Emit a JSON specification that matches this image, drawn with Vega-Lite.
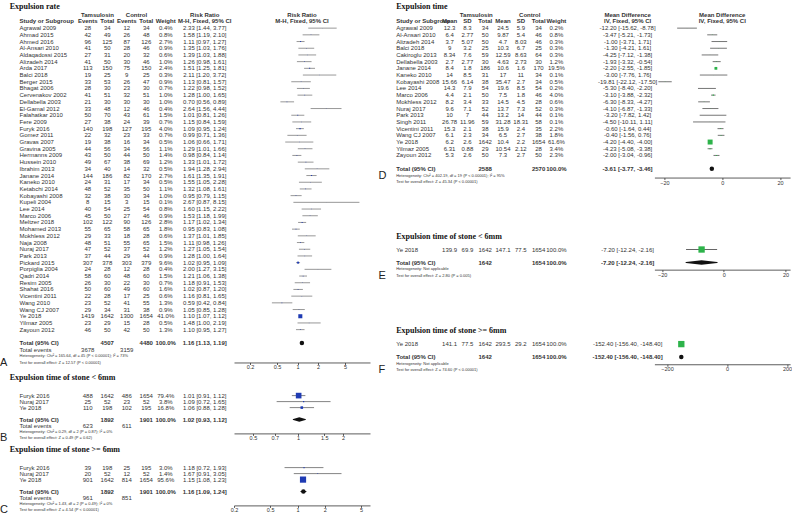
{
"$schema": "https://vega.github.io/schema/vega-lite/v6.json",
"padding": 0,
"background": "white",
"config": {
 "view": {"stroke": null},
 "text": {"font": "Liberation Sans", "fontSize": 6, "color": "#333", "baseline": "middle"},
 "axis": {"labelFont": "Liberation Sans", "labelFontSize": 5.5, "labelColor": "#333", "tickSize": 2, "labelPadding": 0.5, "domainColor": "#333", "tickColor": "#333", "domainWidth": 0.8, "tickWidth": 0.8, "grid": false, "labelFlush": false, "labelOverlap": false}
},
"datasets": {
 "A": [
  {"kind": "title", "r": -3, "title": "Expulsion rate"},
  {"kind": "head1", "r": -2, "tam": "Tamsulosin", "ctl": "Control", "ci": "Risk Ratio", "plot": "Risk Ratio"},
  {"kind": "head2", "r": -1, "study": "Study or Subgroup", "e1": "Events", "n1": "Total", "e2": "Events", "n2": "Total", "w": "Weight", "ci": "M-H, Fixed, 95% CI", "plot": "M-H, Fixed, 95% CI"},
  {"kind": "study", "r": 0, "study": "Agrawal 2009", "e1": "28", "n1": "34", "e2": "12", "n2": "34", "w": "0.4%", "ci": "2.33 [1.44, 3.77]", "weight": 0.4, "est": 2.33, "lo": 1.44, "hi": 3.77},
  {"kind": "study", "r": 1, "study": "Ahmad 2015", "e1": "42", "n1": "49", "e2": "26", "n2": "48", "w": "0.8%", "ci": "1.58 [1.19, 2.10]", "weight": 0.8, "est": 1.58, "lo": 1.19, "hi": 2.10},
  {"kind": "study", "r": 2, "study": "Ahmed 2016", "e1": "96", "n1": "125", "e2": "87", "n2": "126", "w": "2.7%", "ci": "1.11 [0.97, 1.27]", "weight": 2.7, "est": 1.11, "lo": 0.97, "hi": 1.27},
  {"kind": "study", "r": 3, "study": "Al-Ansari 2010", "e1": "41", "n1": "50", "e2": "28", "n2": "46", "w": "0.9%", "ci": "1.35 [1.03, 1.76]", "weight": 0.9, "est": 1.35, "lo": 1.03, "hi": 1.76},
  {"kind": "study", "r": 4, "study": "Aldaqadossi 2015", "e1": "27", "n1": "31", "e2": "20", "n2": "32", "w": "0.6%", "ci": "1.39 [1.03, 1.88]", "weight": 0.6, "est": 1.39, "lo": 1.03, "hi": 1.88},
  {"kind": "study", "r": 5, "study": "Alizadeh 2014", "e1": "41", "n1": "50", "e2": "30", "n2": "46", "w": "1.0%", "ci": "1.26 [0.98, 1.61]", "weight": 1.0, "est": 1.26, "lo": 0.98, "hi": 1.61},
  {"kind": "study", "r": 6, "study": "Arda 2017", "e1": "113", "n1": "150", "e2": "75", "n2": "150", "w": "2.4%", "ci": "1.51 [1.25, 1.81]", "weight": 2.4, "est": 1.51, "lo": 1.25, "hi": 1.81},
  {"kind": "study", "r": 7, "study": "Balci 2018", "e1": "19", "n1": "25", "e2": "9", "n2": "25", "w": "0.3%", "ci": "2.11 [1.20, 3.72]", "weight": 0.3, "est": 2.11, "lo": 1.20, "hi": 3.72},
  {"kind": "study", "r": 8, "study": "Berger 2015", "e1": "33", "n1": "53", "e2": "26", "n2": "47", "w": "0.9%", "ci": "1.13 [0.81, 1.57]", "weight": 0.9, "est": 1.13, "lo": 0.81, "hi": 1.57},
  {"kind": "study", "r": 9, "study": "Bhagat 2006", "e1": "28", "n1": "30", "e2": "23", "n2": "30", "w": "0.7%", "ci": "1.22 [0.98, 1.52]", "weight": 0.7, "est": 1.22, "lo": 0.98, "hi": 1.52},
  {"kind": "study", "r": 10, "study": "Cervenakov 2002", "e1": "41", "n1": "51", "e2": "32", "n2": "51", "w": "1.0%", "ci": "1.28 [1.00, 1.65]", "weight": 1.0, "est": 1.28, "lo": 1.00, "hi": 1.65},
  {"kind": "study", "r": 11, "study": "Dellabella 2003", "e1": "21", "n1": "30", "e2": "30", "n2": "30", "w": "1.0%", "ci": "0.70 [0.56, 0.89]", "weight": 1.0, "est": 0.70, "lo": 0.56, "hi": 0.89},
  {"kind": "study", "r": 12, "study": "El-Gamal 2012", "e1": "33", "n1": "48", "e2": "12", "n2": "46", "w": "0.4%", "ci": "2.64 [1.56, 4.44]", "weight": 0.4, "est": 2.64, "lo": 1.56, "hi": 4.44},
  {"kind": "study", "r": 13, "study": "Falahatkar 2010", "e1": "50", "n1": "70", "e2": "43", "n2": "61", "w": "1.5%", "ci": "1.01 [0.81, 1.26]", "weight": 1.5, "est": 1.01, "lo": 0.81, "hi": 1.26},
  {"kind": "study", "r": 14, "study": "Fere 2009", "e1": "27", "n1": "38", "e2": "24", "n2": "39", "w": "0.7%", "ci": "1.15 [0.84, 1.59]", "weight": 0.7, "est": 1.15, "lo": 0.84, "hi": 1.59},
  {"kind": "study", "r": 15, "study": "Furyk 2016", "e1": "140", "n1": "198", "e2": "127", "n2": "195", "w": "4.0%", "ci": "1.09 [0.95, 1.24]", "weight": 4.0, "est": 1.09, "lo": 0.95, "hi": 1.24},
  {"kind": "study", "r": 16, "study": "Gomez 2011", "e1": "22", "n1": "32", "e2": "23", "n2": "33", "w": "0.7%", "ci": "0.99 [0.71, 1.36]", "weight": 0.7, "est": 0.99, "lo": 0.71, "hi": 1.36},
  {"kind": "study", "r": 17, "study": "Gravas 2007", "e1": "19", "n1": "38", "e2": "16", "n2": "34", "w": "0.5%", "ci": "1.06 [0.66, 1.71]", "weight": 0.5, "est": 1.06, "lo": 0.66, "hi": 1.71},
  {"kind": "study", "r": 18, "study": "Gravina 2005", "e1": "44", "n1": "56", "e2": "34", "n2": "56", "w": "1.1%", "ci": "1.29 [1.01, 1.66]", "weight": 1.1, "est": 1.29, "lo": 1.01, "hi": 1.66},
  {"kind": "study", "r": 19, "study": "Hermanns 2009", "e1": "43", "n1": "50", "e2": "44", "n2": "50", "w": "1.4%", "ci": "0.98 [0.84, 1.14]", "weight": 1.4, "est": 0.98, "lo": 0.84, "hi": 1.14},
  {"kind": "study", "r": 20, "study": "Hussein 2010", "e1": "49", "n1": "67", "e2": "38", "n2": "69", "w": "1.2%", "ci": "1.33 [1.01, 1.72]", "weight": 1.2, "est": 1.33, "lo": 1.01, "hi": 1.72},
  {"kind": "study", "r": 21, "study": "Ibrahim 2013", "e1": "34", "n1": "40", "e2": "14", "n2": "32", "w": "0.5%", "ci": "1.94 [1.28, 2.94]", "weight": 0.5, "est": 1.94, "lo": 1.28, "hi": 2.94},
  {"kind": "study", "r": 22, "study": "Janane 2014", "e1": "144", "n1": "186", "e2": "82", "n2": "170", "w": "2.7%", "ci": "1.61 [1.35, 1.91]", "weight": 2.7, "est": 1.61, "lo": 1.35, "hi": 1.91},
  {"kind": "study", "r": 23, "study": "Kaneko 2010", "e1": "24", "n1": "31", "e2": "17", "n2": "34", "w": "0.5%", "ci": "1.55 [1.05, 2.28]", "weight": 0.5, "est": 1.55, "lo": 1.05, "hi": 2.28},
  {"kind": "study", "r": 24, "study": "Ketabchi 2014", "e1": "48", "n1": "52", "e2": "35", "n2": "50", "w": "1.1%", "ci": "1.32 [1.08, 1.61]", "weight": 1.1, "est": 1.32, "lo": 1.08, "hi": 1.61},
  {"kind": "study", "r": 25, "study": "Kobayashi 2008", "e1": "32", "n1": "38", "e2": "30", "n2": "34", "w": "1.0%", "ci": "0.95 [0.79, 1.15]", "weight": 1.0, "est": 0.95, "lo": 0.79, "hi": 1.15},
  {"kind": "study", "r": 26, "study": "Kupeli 2004", "e1": "8", "n1": "15", "e2": "3", "n2": "15", "w": "0.1%", "ci": "2.67 [0.87, 8.15]", "weight": 0.1, "est": 2.67, "lo": 0.87, "hi": 8.15},
  {"kind": "study", "r": 27, "study": "Lee 2014", "e1": "40", "n1": "54", "e2": "25", "n2": "54", "w": "0.8%", "ci": "1.60 [1.15, 2.22]", "weight": 0.8, "est": 1.60, "lo": 1.15, "hi": 2.22},
  {"kind": "study", "r": 28, "study": "Marco 2006", "e1": "45", "n1": "50", "e2": "27", "n2": "46", "w": "0.9%", "ci": "1.53 [1.18, 1.99]", "weight": 0.9, "est": 1.53, "lo": 1.18, "hi": 1.99},
  {"kind": "study", "r": 29, "study": "Meltzer 2018", "e1": "102", "n1": "122", "e2": "90", "n2": "126", "w": "2.8%", "ci": "1.17 [1.02, 1.34]", "weight": 2.8, "est": 1.17, "lo": 1.02, "hi": 1.34},
  {"kind": "study", "r": 30, "study": "Mohamed 2013", "e1": "55", "n1": "65", "e2": "58", "n2": "65", "w": "1.8%", "ci": "0.95 [0.83, 1.08]", "weight": 1.8, "est": 0.95, "lo": 0.83, "hi": 1.08},
  {"kind": "study", "r": 31, "study": "Mokhless 2012", "e1": "29", "n1": "33", "e2": "18", "n2": "28", "w": "0.6%", "ci": "1.37 [1.01, 1.85]", "weight": 0.6, "est": 1.37, "lo": 1.01, "hi": 1.85},
  {"kind": "study", "r": 32, "study": "Naja 2008", "e1": "48", "n1": "51", "e2": "55", "n2": "65", "w": "1.5%", "ci": "1.11 [0.98, 1.26]", "weight": 1.5, "est": 1.11, "lo": 0.98, "hi": 1.26},
  {"kind": "study", "r": 33, "study": "Nuraj 2017", "e1": "47", "n1": "52", "e2": "37", "n2": "52", "w": "1.2%", "ci": "1.27 [1.05, 1.54]", "weight": 1.2, "est": 1.27, "lo": 1.05, "hi": 1.54},
  {"kind": "study", "r": 34, "study": "Park 2013", "e1": "37", "n1": "44", "e2": "29", "n2": "44", "w": "0.9%", "ci": "1.28 [1.00, 1.64]", "weight": 0.9, "est": 1.28, "lo": 1.00, "hi": 1.64},
  {"kind": "study", "r": 35, "study": "Pickard 2015", "e1": "307", "n1": "378", "e2": "303", "n2": "379", "w": "9.6%", "ci": "1.02 [0.95, 1.09]", "weight": 9.6, "est": 1.02, "lo": 0.95, "hi": 1.09},
  {"kind": "study", "r": 36, "study": "Porpiglia 2004", "e1": "24", "n1": "28", "e2": "12", "n2": "28", "w": "0.4%", "ci": "2.00 [1.27, 3.15]", "weight": 0.4, "est": 2.00, "lo": 1.27, "hi": 3.15},
  {"kind": "study", "r": 37, "study": "Qadri 2014", "e1": "58", "n1": "60", "e2": "48", "n2": "60", "w": "1.5%", "ci": "1.21 [1.06, 1.38]", "weight": 1.5, "est": 1.21, "lo": 1.06, "hi": 1.38},
  {"kind": "study", "r": 38, "study": "Resim 2005", "e1": "26", "n1": "30", "e2": "22", "n2": "30", "w": "0.7%", "ci": "1.18 [0.91, 1.53]", "weight": 0.7, "est": 1.18, "lo": 0.91, "hi": 1.53},
  {"kind": "study", "r": 39, "study": "Shahat 2016", "e1": "50", "n1": "60", "e2": "49", "n2": "60", "w": "1.6%", "ci": "1.02 [0.87, 1.20]", "weight": 1.6, "est": 1.02, "lo": 0.87, "hi": 1.20},
  {"kind": "study", "r": 40, "study": "Vicentini 2011", "e1": "22", "n1": "28", "e2": "17", "n2": "25", "w": "0.6%", "ci": "1.16 [0.81, 1.65]", "weight": 0.6, "est": 1.16, "lo": 0.81, "hi": 1.65},
  {"kind": "study", "r": 41, "study": "Wang 2010", "e1": "23", "n1": "52", "e2": "41", "n2": "55", "w": "1.3%", "ci": "0.59 [0.42, 0.84]", "weight": 1.3, "est": 0.59, "lo": 0.42, "hi": 0.84},
  {"kind": "study", "r": 42, "study": "Wang CJ 2007", "e1": "29", "n1": "34", "e2": "31", "n2": "38", "w": "0.9%", "ci": "1.05 [0.85, 1.28]", "weight": 0.9, "est": 1.05, "lo": 0.85, "hi": 1.28},
  {"kind": "study", "r": 43, "study": "Ye 2018", "e1": "1419", "n1": "1642", "e2": "1300", "n2": "1654", "w": "41.0%", "ci": "1.10 [1.07, 1.12]", "weight": 41.0, "est": 1.10, "lo": 1.07, "hi": 1.12},
  {"kind": "study", "r": 44, "study": "Yilmaz 2005", "e1": "23", "n1": "29", "e2": "15", "n2": "28", "w": "0.5%", "ci": "1.48 [1.00, 2.19]", "weight": 0.5, "est": 1.48, "lo": 1.00, "hi": 2.19},
  {"kind": "study", "r": 45, "study": "Zayoun 2012", "e1": "46", "n1": "50", "e2": "42", "n2": "50", "w": "1.3%", "ci": "1.10 [0.95, 1.27]", "weight": 1.3, "est": 1.10, "lo": 0.95, "hi": 1.27},
  {"kind": "total", "r": 47, "study": "Total (95% CI)", "n1": "4507", "n2": "4480", "w": "100.0%", "ci": "1.16 [1.13, 1.19]", "est": 1.16, "lo": 1.13, "hi": 1.19},
  {"kind": "events", "r": 48, "study": "Total events", "e1": "3678", "e2": "3159"},
  {"kind": "note", "r": 49, "study": "Heterogeneity: Chi² = 165.64, df = 45 (P < 0.00001); I² = 73%"},
  {"kind": "note", "r": 50, "study": "Test for overall effect: Z = 12.57 (P < 0.00001)", "letter": "A"},
  {"kind": "favours", "left": "Favours [Tamsulosin]", "right": "Favours [Control]"}
 ],
 "B": [
  {"kind": "title", "r": -3, "title": "Expulsion time of stone < 6mm"},
  {"kind": "study", "r": 0, "study": "Furyk 2016", "e1": "488", "n1": "1642", "e2": "486", "n2": "1654", "w": "79.4%", "ci": "1.01 [0.91, 1.12]", "weight": 79.4, "est": 1.01, "lo": 0.91, "hi": 1.12},
  {"kind": "study", "r": 1, "study": "Nuraj 2017", "e1": "25", "n1": "52", "e2": "23", "n2": "52", "w": "3.8%", "ci": "1.09 [0.72, 1.65]", "weight": 3.8, "est": 1.09, "lo": 0.72, "hi": 1.65},
  {"kind": "study", "r": 2, "study": "Ye 2018", "e1": "110", "n1": "198", "e2": "102", "n2": "195", "w": "16.8%", "ci": "1.06 [0.88, 1.28]", "weight": 16.8, "est": 1.06, "lo": 0.88, "hi": 1.28},
  {"kind": "total", "r": 4, "study": "Total (95% CI)", "n1": "1892", "n2": "1901", "w": "100.0%", "ci": "1.02 [0.93, 1.12]", "est": 1.02, "lo": 0.93, "hi": 1.12},
  {"kind": "events", "r": 5, "study": "Total events", "e1": "623", "e2": "611"},
  {"kind": "note", "r": 6, "study": "Heterogeneity: Chi² = 0.29, df = 2 (P = 0.87); I² = 0%"},
  {"kind": "note", "r": 7, "study": "Test for overall effect: Z = 0.49 (P = 0.62)", "letter": "B"},
  {"kind": "favours", "left": "Favours [Tamsulosin]", "right": "Favours [control]"}
 ],
 "C": [
  {"kind": "title", "r": -3, "title": "Expulsion time of stone >= 6mm"},
  {"kind": "study", "r": 0, "study": "Furyk 2016", "e1": "39", "n1": "198", "e2": "25", "n2": "195", "w": "3.0%", "ci": "1.18 [0.72, 1.93]", "weight": 3.0, "est": 1.18, "lo": 0.72, "hi": 1.93},
  {"kind": "study", "r": 1, "study": "Nuraj 2017", "e1": "20", "n1": "52", "e2": "12", "n2": "52", "w": "1.4%", "ci": "1.67 [0.91, 3.05]", "weight": 1.4, "est": 1.67, "lo": 0.91, "hi": 3.05},
  {"kind": "study", "r": 2, "study": "Ye 2018", "e1": "901", "n1": "1642", "e2": "814", "n2": "1654", "w": "95.6%", "ci": "1.15 [1.08, 1.23]", "weight": 95.6, "est": 1.15, "lo": 1.08, "hi": 1.23},
  {"kind": "total", "r": 4, "study": "Total (95% CI)", "n1": "1892", "n2": "1901", "w": "100.0%", "ci": "1.16 [1.09, 1.24]", "est": 1.16, "lo": 1.09, "hi": 1.24},
  {"kind": "events", "r": 5, "study": "Total events", "e1": "961", "e2": "851"},
  {"kind": "note", "r": 6, "study": "Heterogeneity: Chi² = 1.43, df = 2 (P = 0.49); I² = 0%"},
  {"kind": "note", "r": 7, "study": "Test for overall effect: Z = 4.54 (P < 0.00001)", "letter": "C"},
  {"kind": "favours", "left": "Favours [Tamsulosin]", "right": "Favours [control]"}
 ],
 "D": [
  {"kind": "title", "r": -3, "title": "Expulsion time"},
  {"kind": "head1", "r": -2, "tam": "Tamsulosin", "ctl": "Control", "ci": "Mean Difference", "plot": "Mean Difference"},
  {"kind": "head2", "r": -1, "study": "Study or Subgroup", "m1": "Mean", "sd1": "SD", "n1": "Total", "m2": "Mean", "sd2": "SD", "n2": "Total", "w": "Weight", "ci": "IV, Fixed, 95% CI", "plot": "IV, Fixed, 95% CI"},
  {"kind": "study", "r": 0, "study": "Agrawal 2009", "m1": "12.3", "sd1": "8.3", "n1": "34", "m2": "24.5", "sd2": "5.9", "n2": "34", "w": "0.2%", "ci": "-12.20 [-15.62, -8.78]", "weight": 0.2, "est": -12.2, "lo": -15.62, "hi": -8.78},
  {"kind": "study", "r": 1, "study": "Al-Ansari 2010", "m1": "6.4", "sd1": "2.77", "n1": "50", "m2": "9.87", "sd2": "5.4", "n2": "46", "w": "0.8%", "ci": "-3.47 [-5.21, -1.73]", "weight": 0.8, "est": -3.47, "lo": -5.21, "hi": -1.73},
  {"kind": "study", "r": 2, "study": "Alizadeh 2014", "m1": "3.7", "sd1": "5.07", "n1": "50", "m2": "4.7", "sd2": "8.03", "n2": "46", "w": "0.3%", "ci": "-1.00 [-3.71, 1.71]", "weight": 0.3, "est": -1.0, "lo": -3.71, "hi": 1.71},
  {"kind": "study", "r": 3, "study": "Balci 2018", "m1": "9", "sd1": "3.2", "n1": "25", "m2": "10.3", "sd2": "6.7", "n2": "25", "w": "0.3%", "ci": "-1.30 [-4.21, 1.61]", "weight": 0.3, "est": -1.3, "lo": -4.21, "hi": 1.61},
  {"kind": "study", "r": 4, "study": "Cakiroglu 2013", "m1": "8.34", "sd1": "7.6", "n1": "59", "m2": "12.59", "sd2": "8.63", "n2": "64", "w": "0.3%", "ci": "-4.25 [-7.12, -1.38]", "weight": 0.3, "est": -4.25, "lo": -7.12, "hi": -1.38},
  {"kind": "study", "r": 5, "study": "Dellabella 2003", "m1": "2.7", "sd1": "2.77", "n1": "30", "m2": "4.63", "sd2": "2.73", "n2": "30", "w": "1.2%", "ci": "-1.93 [-3.32, -0.54]", "weight": 1.2, "est": -1.93, "lo": -3.32, "hi": -0.54},
  {"kind": "study", "r": 6, "study": "Janane 2014", "m1": "8.4", "sd1": "1.8", "n1": "186", "m2": "10.6", "sd2": "1.6", "n2": "170", "w": "19.5%", "ci": "-2.20 [-2.55, -1.85]", "weight": 19.5, "est": -2.2, "lo": -2.55, "hi": -1.85},
  {"kind": "study", "r": 7, "study": "Kaneko 2010", "m1": "14", "sd1": "8.5", "n1": "31", "m2": "17", "sd2": "11", "n2": "34", "w": "0.1%", "ci": "-3.00 [-7.76, 1.76]", "weight": 0.1, "est": -3.0, "lo": -7.76, "hi": 1.76},
  {"kind": "study", "r": 8, "study": "Kobayashi 2008", "m1": "15.66", "sd1": "6.14", "n1": "38", "m2": "35.47", "sd2": "2.7", "n2": "34", "w": "0.5%", "ci": "-19.81 [-22.12, -17.50]", "weight": 0.5, "est": -19.81, "lo": -22.12, "hi": -17.5},
  {"kind": "study", "r": 9, "study": "Lee 2014", "m1": "14.3", "sd1": "7.9", "n1": "54", "m2": "19.6", "sd2": "8.5", "n2": "54", "w": "0.2%", "ci": "-5.30 [-8.40, -2.20]", "weight": 0.2, "est": -5.3, "lo": -8.4, "hi": -2.2},
  {"kind": "study", "r": 10, "study": "Marco 2006", "m1": "4.4", "sd1": "2.1", "n1": "50", "m2": "7.5", "sd2": "1.8", "n2": "46", "w": "4.0%", "ci": "-3.10 [-3.88, -2.32]", "weight": 4.0, "est": -3.1, "lo": -3.88, "hi": -2.32},
  {"kind": "study", "r": 11, "study": "Mokhless 2012", "m1": "8.2", "sd1": "3.4", "n1": "33", "m2": "14.5", "sd2": "4.5", "n2": "28", "w": "0.6%", "ci": "-6.30 [-8.33, -4.27]", "weight": 0.6, "est": -6.3, "lo": -8.33, "hi": -4.27},
  {"kind": "study", "r": 12, "study": "Nuraj 2017", "m1": "9.6", "sd1": "7.1", "n1": "52", "m2": "13.7", "sd2": "7.3", "n2": "52", "w": "0.3%", "ci": "-4.10 [-6.87, -1.33]", "weight": 0.3, "est": -4.1, "lo": -6.87, "hi": -1.33},
  {"kind": "study", "r": 13, "study": "Park 2013", "m1": "10", "sd1": "7", "n1": "44", "m2": "13.2", "sd2": "14", "n2": "44", "w": "0.1%", "ci": "-3.20 [-7.82, 1.42]", "weight": 0.1, "est": -3.2, "lo": -7.82, "hi": 1.42},
  {"kind": "study", "r": 14, "study": "Singh 2011", "m1": "26.78", "sd1": "11.96", "n1": "59", "m2": "31.28", "sd2": "18.31", "n2": "58", "w": "0.1%", "ci": "-4.50 [-10.11, 1.11]", "weight": 0.1, "est": -4.5, "lo": -10.11, "hi": 1.11},
  {"kind": "study", "r": 15, "study": "Vicentini 2011", "m1": "15.3", "sd1": "2.1", "n1": "38", "m2": "15.9", "sd2": "2.4", "n2": "35", "w": "2.2%", "ci": "-0.60 [-1.64, 0.44]", "weight": 2.2, "est": -0.6, "lo": -1.64, "hi": 0.44},
  {"kind": "study", "r": 16, "study": "Wang CJ 2007", "m1": "6.1", "sd1": "2.3", "n1": "34", "m2": "6.5", "sd2": "2.7", "n2": "38", "w": "1.8%", "ci": "-0.40 [-1.56, 0.76]", "weight": 1.8, "est": -0.4, "lo": -1.56, "hi": 0.76},
  {"kind": "study", "r": 17, "study": "Ye 2018", "m1": "6.2", "sd1": "2.6", "n1": "1642", "m2": "10.4", "sd2": "2.2", "n2": "1654", "w": "61.6%", "ci": "-4.20 [-4.40, -4.00]", "weight": 61.6, "est": -4.2, "lo": -4.4, "hi": -4.0},
  {"kind": "study", "r": 18, "study": "Yilmaz 2005", "m1": "6.31", "sd1": "0.88", "n1": "29", "m2": "10.54", "sd2": "2.12", "n2": "28", "w": "3.4%", "ci": "-4.23 [-5.08, -3.38]", "weight": 3.4, "est": -4.23, "lo": -5.08, "hi": -3.38},
  {"kind": "study", "r": 19, "study": "Zayoun 2012", "m1": "5.3", "sd1": "2.6", "n1": "50", "m2": "7.3", "sd2": "2.7", "n2": "50", "w": "2.3%", "ci": "-2.00 [-3.04, -0.96]", "weight": 2.3, "est": -2.0, "lo": -3.04, "hi": -0.96},
  {"kind": "total", "r": 21, "study": "Total (95% CI)", "n1": "2588", "n2": "2570", "w": "100.0%", "ci": "-3.61 [-3.77, -3.46]", "est": -3.61, "lo": -3.77, "hi": -3.46},
  {"kind": "note", "r": 22, "study": "Heterogeneity: Chi² = 402.19, df = 19 (P < 0.00001); I² = 95%", "letter": "D"},
  {"kind": "note", "r": 23, "study": "Test for overall effect: Z = 45.34 (P < 0.00001)"},
  {"kind": "favours", "left": "Favours [ Tamsulosin]", "right": "Favours [control]"}
 ],
 "E": [
  {"kind": "title", "r": -2, "title": "Expulsion time of stone < 6mm"},
  {"kind": "study", "r": 0, "study": "Ye 2018", "m1": "139.9", "sd1": "69.9", "n1": "1642", "m2": "147.1", "sd2": "77.5", "n2": "1654", "w": "100.0%", "ci": "-7.20 [-12.24, -2.16]", "weight": 100, "est": -7.2, "lo": -12.24, "hi": -2.16},
  {"kind": "total", "r": 2, "study": "Total (95% CI)", "n1": "1642", "n2": "1654", "w": "100.0%", "ci": "-7.20 [-12.24, -2.16]", "est": -7.2, "lo": -12.24, "hi": -2.16},
  {"kind": "note", "r": 3, "study": "Heterogeneity: Not applicable"},
  {"kind": "note", "r": 4, "study": "Test for overall effect: Z = 2.80 (P = 0.005)", "letter": "E"},
  {"kind": "favours", "left": "Favours [Tamsulosin]", "right": "Favours [control]"}
 ],
 "F": [
  {"kind": "title", "r": -2, "title": "Expulsion time of stone >= 6mm"},
  {"kind": "study", "r": 0, "study": "Ye 2018", "m1": "141.1", "sd1": "77.5", "n1": "1642", "m2": "293.5", "sd2": "29.2", "n2": "1654", "w": "100.0%", "ci": "-152.40 [-156.40, -148.40]", "weight": 100, "est": -152.4, "lo": -156.4, "hi": -148.4},
  {"kind": "total", "r": 2, "study": "Total (95% CI)", "n1": "1642", "n2": "1654", "w": "100.0%", "ci": "-152.40 [-156.40, -148.40]", "est": -152.4, "lo": -156.4, "hi": -148.4},
  {"kind": "note", "r": 3, "study": "Heterogeneity: Not applicable"},
  {"kind": "note", "r": 4, "study": "Test for overall effect: Z = 74.60 (P < 0.00001)", "letter": "F"},
  {"kind": "favours", "left": "Favours [Tamsulosin]", "right": "Favours [control]"}
 ]
},
"hconcat": [
 {"vconcat": [
  {"hconcat": [
   {"width": 234, "height": 362.47, "data": {"name": "A"},
    "encoding": {"y": {"field": "r", "type": "quantitative", "scale": {"domain": [-4.2, 49.9], "reverse": true, "nice": false, "zero": false}, "axis": null}},
    "layer": [
     {"transform": [{"filter": "datum.kind == 'title'"}], "mark": {"type": "text", "align": "left", "font": "Liberation Serif", "fontWeight": "bold", "fontSize": 8, "color": "#111", "dy": -1},
      "encoding": {"x": {"datum": "title", "type": "nominal", "scale": {"type": "point", "domain": ["letter","title","study","f3","f4","f5","f6","f7","f8","e1","tam","n1","f12","e2","ctl","n2","f16","w","f18","f19","f20","ci","f22","f23","f24"], "padding": 0}, "axis": null}, "text": {"field": "title", "type": "nominal"}}},
     {"transform": [{"filter": "datum.kind == 'study' || datum.kind == 'events'"}], "mark": {"type": "text", "align": "left"},
      "encoding": {"x": {"datum": "study", "type": "nominal", "scale": {"type": "point", "domain": ["letter","title","study","f3","f4","f5","f6","f7","f8","e1","tam","n1","f12","e2","ctl","n2","f16","w","f18","f19","f20","ci","f22","f23","f24"], "padding": 0}, "axis": null}, "text": {"field": "study", "type": "nominal"}}},
     {"transform": [{"filter": "datum.kind == 'head2' || datum.kind == 'total'"}], "mark": {"type": "text", "align": "left", "fontWeight": "bold"},
      "encoding": {"x": {"datum": "study", "type": "nominal", "scale": {"type": "point", "domain": ["letter","title","study","f3","f4","f5","f6","f7","f8","e1","tam","n1","f12","e2","ctl","n2","f16","w","f18","f19","f20","ci","f22","f23","f24"], "padding": 0}, "axis": null}, "text": {"field": "study", "type": "nominal"}}},
     {"transform": [{"filter": "datum.kind == 'note'"}], "mark": {"type": "text", "align": "left", "fontSize": 4},
      "encoding": {"x": {"datum": "study", "type": "nominal", "scale": {"type": "point", "domain": ["letter","title","study","f3","f4","f5","f6","f7","f8","e1","tam","n1","f12","e2","ctl","n2","f16","w","f18","f19","f20","ci","f22","f23","f24"], "padding": 0}, "axis": null}, "text": {"field": "study", "type": "nominal"}}},
     {"transform": [{"filter": "isValid(datum.letter)"}], "mark": {"type": "text", "align": "left", "fontSize": 11, "color": "#222"},
      "encoding": {"x": {"datum": "letter", "type": "nominal", "scale": {"type": "point", "domain": ["letter","title","study","f3","f4","f5","f6","f7","f8","e1","tam","n1","f12","e2","ctl","n2","f16","w","f18","f19","f20","ci","f22","f23","f24"], "padding": 0}, "axis": null}, "text": {"field": "letter", "type": "nominal"}}},
     {"transform": [{"filter": "datum.kind == 'study' || datum.kind == 'events'"}, {"fold": ["e1","n1","e2","n2","w","ci"], "as": ["key","value"]}, {"filter": "isValid(datum.value)"}], "mark": {"type": "text"},
      "encoding": {"x": {"field": "key", "type": "nominal", "scale": {"type": "point", "domain": ["letter","title","study","f3","f4","f5","f6","f7","f8","e1","tam","n1","f12","e2","ctl","n2","f16","w","f18","f19","f20","ci","f22","f23","f24"], "padding": 0}, "axis": null}, "text": {"field": "value", "type": "nominal"}}},
     {"transform": [{"filter": "datum.kind == 'head1' || datum.kind == 'head2' || datum.kind == 'total'"}, {"fold": ["e1","tam","n1","e2","ctl","n2","w","ci"], "as": ["key","value"]}, {"filter": "isValid(datum.value)"}], "mark": {"type": "text", "fontWeight": "bold"},
      "encoding": {"x": {"field": "key", "type": "nominal", "scale": {"type": "point", "domain": ["letter","title","study","f3","f4","f5","f6","f7","f8","e1","tam","n1","f12","e2","ctl","n2","f16","w","f18","f19","f20","ci","f22","f23","f24"], "padding": 0}, "axis": null}, "text": {"field": "value", "type": "nominal"}}},
     {"transform": [{"filter": "datum.kind == 'favours'"}], "mark": {"type": "rule", "color": "#444", "strokeWidth": 0.8},
      "encoding": {"x": {"datum": "study", "type": "nominal", "scale": {"type": "point", "domain": ["letter","title","study","f3","f4","f5","f6","f7","f8","e1","tam","n1","f12","e2","ctl","n2","f16","w","f18","f19","f20","ci","f22","f23","f24"], "padding": 0}, "axis": null}, "x2": {"datum": "f24"}, "y": {"datum": -0.5, "type": "quantitative", "scale": {"domain": [-4.2, 49.9], "reverse": true, "nice": false, "zero": false}, "axis": null}}}
    ]},
   {"width": 136, "height": 362.47, "data": {"name": "A"},
    "encoding": {"y": {"field": "r", "type": "quantitative", "scale": {"domain": [-4.2, 49.9], "reverse": true, "nice": false, "zero": false}, "axis": null}},
    "layer": [
     {"transform": [{"filter": "datum.kind == 'head1' || datum.kind == 'head2'"}], "mark": {"type": "text", "fontWeight": "bold"}, "encoding": {"text": {"field": "plot", "type": "nominal"}}},
     {"transform": [{"filter": "datum.kind == 'favours'"}], "mark": {"type": "rule", "color": "#444", "strokeWidth": 0.8}, "encoding": {"y": {"datum": -0.5, "type": "quantitative", "scale": {"domain": [-4.2, 49.9], "reverse": true, "nice": false, "zero": false}, "axis": null}}},
     {"transform": [{"filter": "datum.kind == 'favours'"}], "mark": {"type": "rule", "color": "#333", "strokeWidth": 0.8},
      "encoding": {"x": {"datum": 1, "type": "quantitative", "scale": {"type": "log", "domain": [0.1163, 11.66], "nice": false}, "axis": {"values": [0.2,0.5,1,2,5], "format": "~g", "title": null}}, "y": {"datum": -0.5, "type": "quantitative", "scale": {"domain": [-4.2, 49.9], "reverse": true, "nice": false, "zero": false}, "axis": null}, "y2": {"datum": 49.9}}},
     {"transform": [{"filter": "datum.kind == 'study'"}], "mark": {"type": "rule", "color": "#8c8c8c", "strokeWidth": 0.9},
      "encoding": {"x": {"field": "lo", "type": "quantitative", "scale": {"type": "log", "domain": [0.1163, 11.66], "nice": false}, "axis": {"values": [0.2,0.5,1,2,5], "format": "~g", "title": null}}, "x2": {"field": "hi"}}},
     {"transform": [{"filter": "datum.kind == 'study'"}], "mark": {"type": "square", "color": "#1f3bb3", "opacity": 1},
      "encoding": {"x": {"field": "est", "type": "quantitative", "scale": {"type": "log", "domain": [0.1163, 11.66], "nice": false}, "axis": {"values": [0.2,0.5,1,2,5], "format": "~g", "title": null}}, "size": {"field": "weight", "type": "quantitative", "scale": {"domain": [0, 100], "range": [0, 40]}, "legend": null}}},
     {"transform": [{"filter": "datum.kind == 'total'"}, {"fold": ["lo","est","hi"], "as": ["pk","pv"]}], "mark": {"type": "trail", "color": "#111"},
      "encoding": {"x": {"field": "pv", "type": "quantitative", "scale": {"type": "log", "domain": [0.1163, 11.66], "nice": false}, "axis": {"values": [0.2,0.5,1,2,5], "format": "~g", "title": null}}, "size": {"condition": {"test": "datum.pk == 'est'", "value": 4.5}, "value": 0}, "order": {"field": "pv", "type": "quantitative"}}},
     {"transform": [{"filter": "datum.kind == 'favours'"}], "mark": {"type": "text", "align": "right", "dx": -3, "fontSize": 5},
      "encoding": {"x": {"datum": 1, "type": "quantitative", "scale": {"type": "log", "domain": [0.1163, 11.66], "nice": false}}, "y": {"datum": 51.6, "type": "quantitative", "scale": {"domain": [-4.2, 49.9], "reverse": true, "nice": false, "zero": false}, "axis": null}, "text": {"field": "left", "type": "nominal"}}},
     {"transform": [{"filter": "datum.kind == 'favours'"}], "mark": {"type": "text", "align": "left", "dx": 3, "fontSize": 5},
      "encoding": {"x": {"datum": 1, "type": "quantitative", "scale": {"type": "log", "domain": [0.1163, 11.66], "nice": false}}, "y": {"datum": 51.6, "type": "quantitative", "scale": {"domain": [-4.2, 49.9], "reverse": true, "nice": false, "zero": false}, "axis": null}, "text": {"field": "right", "type": "nominal"}}}
    ]}
  ], "spacing": 0, "bounds": "flush"},
  {"hconcat": [
   {"width": 234, "height": 59.4, "data": {"name": "B"},
    "encoding": {"y": {"field": "r", "type": "quantitative", "scale": {"domain": [-3.6, 6.3], "reverse": true, "nice": false, "zero": false}, "axis": null}},
    "layer": [
     {"transform": [{"filter": "datum.kind == 'title'"}], "mark": {"type": "text", "align": "left", "font": "Liberation Serif", "fontWeight": "bold", "fontSize": 8, "color": "#111"},
      "encoding": {"x": {"datum": "title", "type": "nominal", "scale": {"type": "point", "domain": ["letter","title","study","f3","f4","f5","f6","f7","f8","e1","tam","n1","f12","e2","ctl","n2","f16","w","f18","f19","f20","ci","f22","f23","f24"], "padding": 0}, "axis": null}, "text": {"field": "title", "type": "nominal"}}},
     {"transform": [{"filter": "datum.kind == 'study' || datum.kind == 'events'"}], "mark": {"type": "text", "align": "left"},
      "encoding": {"x": {"datum": "study", "type": "nominal", "scale": {"type": "point", "domain": ["letter","title","study","f3","f4","f5","f6","f7","f8","e1","tam","n1","f12","e2","ctl","n2","f16","w","f18","f19","f20","ci","f22","f23","f24"], "padding": 0}, "axis": null}, "text": {"field": "study", "type": "nominal"}}},
     {"transform": [{"filter": "datum.kind == 'head2' || datum.kind == 'total'"}], "mark": {"type": "text", "align": "left", "fontWeight": "bold"},
      "encoding": {"x": {"datum": "study", "type": "nominal", "scale": {"type": "point", "domain": ["letter","title","study","f3","f4","f5","f6","f7","f8","e1","tam","n1","f12","e2","ctl","n2","f16","w","f18","f19","f20","ci","f22","f23","f24"], "padding": 0}, "axis": null}, "text": {"field": "study", "type": "nominal"}}},
     {"transform": [{"filter": "datum.kind == 'note'"}], "mark": {"type": "text", "align": "left", "fontSize": 4},
      "encoding": {"x": {"datum": "study", "type": "nominal", "scale": {"type": "point", "domain": ["letter","title","study","f3","f4","f5","f6","f7","f8","e1","tam","n1","f12","e2","ctl","n2","f16","w","f18","f19","f20","ci","f22","f23","f24"], "padding": 0}, "axis": null}, "text": {"field": "study", "type": "nominal"}}},
     {"transform": [{"filter": "isValid(datum.letter)"}], "mark": {"type": "text", "align": "left", "fontSize": 11, "color": "#222"},
      "encoding": {"x": {"datum": "letter", "type": "nominal", "scale": {"type": "point", "domain": ["letter","title","study","f3","f4","f5","f6","f7","f8","e1","tam","n1","f12","e2","ctl","n2","f16","w","f18","f19","f20","ci","f22","f23","f24"], "padding": 0}, "axis": null}, "text": {"field": "letter", "type": "nominal"}}},
     {"transform": [{"filter": "datum.kind == 'study' || datum.kind == 'events'"}, {"fold": ["e1","n1","e2","n2","w","ci"], "as": ["key","value"]}, {"filter": "isValid(datum.value)"}], "mark": {"type": "text"},
      "encoding": {"x": {"field": "key", "type": "nominal", "scale": {"type": "point", "domain": ["letter","title","study","f3","f4","f5","f6","f7","f8","e1","tam","n1","f12","e2","ctl","n2","f16","w","f18","f19","f20","ci","f22","f23","f24"], "padding": 0}, "axis": null}, "text": {"field": "value", "type": "nominal"}}},
     {"transform": [{"filter": "datum.kind == 'head1' || datum.kind == 'head2' || datum.kind == 'total'"}, {"fold": ["e1","tam","n1","e2","ctl","n2","w","ci"], "as": ["key","value"]}, {"filter": "isValid(datum.value)"}], "mark": {"type": "text", "fontWeight": "bold"},
      "encoding": {"x": {"field": "key", "type": "nominal", "scale": {"type": "point", "domain": ["letter","title","study","f3","f4","f5","f6","f7","f8","e1","tam","n1","f12","e2","ctl","n2","f16","w","f18","f19","f20","ci","f22","f23","f24"], "padding": 0}, "axis": null}, "text": {"field": "value", "type": "nominal"}}},
     {"transform": [{"filter": "datum.kind == 'favours'"}], "mark": {"type": "rule", "color": "#444", "strokeWidth": 0.8},
      "encoding": {"x": {"datum": "study", "type": "nominal", "scale": {"type": "point", "domain": ["letter","title","study","f3","f4","f5","f6","f7","f8","e1","tam","n1","f12","e2","ctl","n2","f16","w","f18","f19","f20","ci","f22","f23","f24"], "padding": 0}, "axis": null}, "x2": {"datum": "f24"}, "y": {"datum": -1, "type": "quantitative", "scale": {"domain": [-3.6, 6.3], "reverse": true, "nice": false, "zero": false}, "axis": null}}}
    ]},
   {"width": 136, "height": 59.4, "data": {"name": "B"},
    "encoding": {"y": {"field": "r", "type": "quantitative", "scale": {"domain": [-3.6, 6.3], "reverse": true, "nice": false, "zero": false}, "axis": null}},
    "layer": [
     {"transform": [{"filter": "datum.kind == 'favours'"}], "mark": {"type": "rule", "color": "#444", "strokeWidth": 0.8}, "encoding": {"y": {"datum": -1, "type": "quantitative", "scale": {"domain": [-3.6, 6.3], "reverse": true, "nice": false, "zero": false}, "axis": null}}},
     {"transform": [{"filter": "datum.kind == 'favours'"}], "mark": {"type": "rule", "color": "#333", "strokeWidth": 0.8},
      "encoding": {"x": {"datum": 1, "type": "quantitative", "scale": {"type": "log", "domain": [0.3736, 3.027], "nice": false}, "axis": {"values": [0.5,0.7,1,1.5,2], "format": "~g", "title": null}}, "y": {"datum": -1, "type": "quantitative", "scale": {"domain": [-3.6, 6.3], "reverse": true, "nice": false, "zero": false}, "axis": null}, "y2": {"datum": 6.3}}},
     {"transform": [{"filter": "datum.kind == 'study'"}], "mark": {"type": "rule", "color": "#777", "strokeWidth": 0.9},
      "encoding": {"x": {"field": "lo", "type": "quantitative", "scale": {"type": "log", "domain": [0.3736, 3.027], "nice": false}, "axis": {"values": [0.5,0.7,1,1.5,2], "format": "~g", "title": null}}, "x2": {"field": "hi"}}},
     {"transform": [{"filter": "datum.kind == 'study'"}], "mark": {"type": "square", "color": "#1f3bb3", "opacity": 1},
      "encoding": {"x": {"field": "est", "type": "quantitative", "scale": {"type": "log", "domain": [0.3736, 3.027], "nice": false}, "axis": {"values": [0.5,0.7,1,1.5,2], "format": "~g", "title": null}}, "size": {"field": "weight", "type": "quantitative", "scale": {"domain": [0, 100], "range": [0, 53]}, "legend": null}}},
     {"transform": [{"filter": "datum.kind == 'total'"}, {"fold": ["lo","est","hi"], "as": ["pk","pv"]}], "mark": {"type": "trail", "color": "#111"},
      "encoding": {"x": {"field": "pv", "type": "quantitative", "scale": {"type": "log", "domain": [0.3736, 3.027], "nice": false}, "axis": {"values": [0.5,0.7,1,1.5,2], "format": "~g", "title": null}}, "size": {"condition": {"test": "datum.pk == 'est'", "value": 4.5}, "value": 0}, "order": {"field": "pv", "type": "quantitative"}}},
     {"transform": [{"filter": "datum.kind == 'favours'"}], "mark": {"type": "text", "align": "right", "dx": -3, "fontSize": 5},
      "encoding": {"x": {"datum": 1, "type": "quantitative", "scale": {"type": "log", "domain": [0.3736, 3.027], "nice": false}}, "y": {"datum": 8.0, "type": "quantitative", "scale": {"domain": [-3.6, 6.3], "reverse": true, "nice": false, "zero": false}, "axis": null}, "text": {"field": "left", "type": "nominal"}}},
     {"transform": [{"filter": "datum.kind == 'favours'"}], "mark": {"type": "text", "align": "left", "dx": 3, "fontSize": 5},
      "encoding": {"x": {"datum": 1, "type": "quantitative", "scale": {"type": "log", "domain": [0.3736, 3.027], "nice": false}}, "y": {"datum": 8.0, "type": "quantitative", "scale": {"domain": [-3.6, 6.3], "reverse": true, "nice": false, "zero": false}, "axis": null}, "text": {"field": "right", "type": "nominal"}}}
    ]}
  ], "spacing": 0, "bounds": "flush"},
  {"hconcat": [
   {"width": 234, "height": 59.4, "data": {"name": "C"},
    "encoding": {"y": {"field": "r", "type": "quantitative", "scale": {"domain": [-3.6, 6.3], "reverse": true, "nice": false, "zero": false}, "axis": null}},
    "layer": [
     {"transform": [{"filter": "datum.kind == 'title'"}], "mark": {"type": "text", "align": "left", "font": "Liberation Serif", "fontWeight": "bold", "fontSize": 8, "color": "#111"},
      "encoding": {"x": {"datum": "title", "type": "nominal", "scale": {"type": "point", "domain": ["letter","title","study","f3","f4","f5","f6","f7","f8","e1","tam","n1","f12","e2","ctl","n2","f16","w","f18","f19","f20","ci","f22","f23","f24"], "padding": 0}, "axis": null}, "text": {"field": "title", "type": "nominal"}}},
     {"transform": [{"filter": "datum.kind == 'study' || datum.kind == 'events'"}], "mark": {"type": "text", "align": "left"},
      "encoding": {"x": {"datum": "study", "type": "nominal", "scale": {"type": "point", "domain": ["letter","title","study","f3","f4","f5","f6","f7","f8","e1","tam","n1","f12","e2","ctl","n2","f16","w","f18","f19","f20","ci","f22","f23","f24"], "padding": 0}, "axis": null}, "text": {"field": "study", "type": "nominal"}}},
     {"transform": [{"filter": "datum.kind == 'head2' || datum.kind == 'total'"}], "mark": {"type": "text", "align": "left", "fontWeight": "bold"},
      "encoding": {"x": {"datum": "study", "type": "nominal", "scale": {"type": "point", "domain": ["letter","title","study","f3","f4","f5","f6","f7","f8","e1","tam","n1","f12","e2","ctl","n2","f16","w","f18","f19","f20","ci","f22","f23","f24"], "padding": 0}, "axis": null}, "text": {"field": "study", "type": "nominal"}}},
     {"transform": [{"filter": "datum.kind == 'note'"}], "mark": {"type": "text", "align": "left", "fontSize": 4},
      "encoding": {"x": {"datum": "study", "type": "nominal", "scale": {"type": "point", "domain": ["letter","title","study","f3","f4","f5","f6","f7","f8","e1","tam","n1","f12","e2","ctl","n2","f16","w","f18","f19","f20","ci","f22","f23","f24"], "padding": 0}, "axis": null}, "text": {"field": "study", "type": "nominal"}}},
     {"transform": [{"filter": "isValid(datum.letter)"}], "mark": {"type": "text", "align": "left", "fontSize": 11, "color": "#222"},
      "encoding": {"x": {"datum": "letter", "type": "nominal", "scale": {"type": "point", "domain": ["letter","title","study","f3","f4","f5","f6","f7","f8","e1","tam","n1","f12","e2","ctl","n2","f16","w","f18","f19","f20","ci","f22","f23","f24"], "padding": 0}, "axis": null}, "text": {"field": "letter", "type": "nominal"}}},
     {"transform": [{"filter": "datum.kind == 'study' || datum.kind == 'events'"}, {"fold": ["e1","n1","e2","n2","w","ci"], "as": ["key","value"]}, {"filter": "isValid(datum.value)"}], "mark": {"type": "text"},
      "encoding": {"x": {"field": "key", "type": "nominal", "scale": {"type": "point", "domain": ["letter","title","study","f3","f4","f5","f6","f7","f8","e1","tam","n1","f12","e2","ctl","n2","f16","w","f18","f19","f20","ci","f22","f23","f24"], "padding": 0}, "axis": null}, "text": {"field": "value", "type": "nominal"}}},
     {"transform": [{"filter": "datum.kind == 'head1' || datum.kind == 'head2' || datum.kind == 'total'"}, {"fold": ["e1","tam","n1","e2","ctl","n2","w","ci"], "as": ["key","value"]}, {"filter": "isValid(datum.value)"}], "mark": {"type": "text", "fontWeight": "bold"},
      "encoding": {"x": {"field": "key", "type": "nominal", "scale": {"type": "point", "domain": ["letter","title","study","f3","f4","f5","f6","f7","f8","e1","tam","n1","f12","e2","ctl","n2","f16","w","f18","f19","f20","ci","f22","f23","f24"], "padding": 0}, "axis": null}, "text": {"field": "value", "type": "nominal"}}},
     {"transform": [{"filter": "datum.kind == 'favours'"}], "mark": {"type": "rule", "color": "#444", "strokeWidth": 0.8},
      "encoding": {"x": {"datum": "study", "type": "nominal", "scale": {"type": "point", "domain": ["letter","title","study","f3","f4","f5","f6","f7","f8","e1","tam","n1","f12","e2","ctl","n2","f16","w","f18","f19","f20","ci","f22","f23","f24"], "padding": 0}, "axis": null}, "x2": {"datum": "f24"}, "y": {"datum": -1, "type": "quantitative", "scale": {"domain": [-3.6, 6.3], "reverse": true, "nice": false, "zero": false}, "axis": null}}}
    ]},
   {"width": 136, "height": 59.4, "data": {"name": "C"},
    "encoding": {"y": {"field": "r", "type": "quantitative", "scale": {"domain": [-3.6, 6.3], "reverse": true, "nice": false, "zero": false}, "axis": null}},
    "layer": [
     {"transform": [{"filter": "datum.kind == 'favours'"}], "mark": {"type": "rule", "color": "#444", "strokeWidth": 0.8}, "encoding": {"y": {"datum": -1, "type": "quantitative", "scale": {"domain": [-3.6, 6.3], "reverse": true, "nice": false, "zero": false}, "axis": null}}},
     {"transform": [{"filter": "datum.kind == 'favours'"}], "mark": {"type": "rule", "color": "#333", "strokeWidth": 0.8},
      "encoding": {"x": {"datum": 1, "type": "quantitative", "scale": {"type": "log", "domain": [0.2, 6.28], "nice": false}, "axis": {"values": [0.2,0.5,1,2,5], "format": "~g", "title": null}}, "y": {"datum": -1, "type": "quantitative", "scale": {"domain": [-3.6, 6.3], "reverse": true, "nice": false, "zero": false}, "axis": null}, "y2": {"datum": 6.3}}},
     {"transform": [{"filter": "datum.kind == 'study'"}], "mark": {"type": "rule", "color": "#777", "strokeWidth": 0.9},
      "encoding": {"x": {"field": "lo", "type": "quantitative", "scale": {"type": "log", "domain": [0.2, 6.28], "nice": false}, "axis": {"values": [0.2,0.5,1,2,5], "format": "~g", "title": null}}, "x2": {"field": "hi"}}},
     {"transform": [{"filter": "datum.kind == 'study'"}], "mark": {"type": "square", "color": "#1f3bb3", "opacity": 1},
      "encoding": {"x": {"field": "est", "type": "quantitative", "scale": {"type": "log", "domain": [0.2, 6.28], "nice": false}, "axis": {"values": [0.2,0.5,1,2,5], "format": "~g", "title": null}}, "size": {"field": "weight", "type": "quantitative", "scale": {"domain": [0, 100], "range": [0, 51]}, "legend": null}}},
     {"transform": [{"filter": "datum.kind == 'total'"}, {"fold": ["lo","est","hi"], "as": ["pk","pv"]}], "mark": {"type": "trail", "color": "#111"},
      "encoding": {"x": {"field": "pv", "type": "quantitative", "scale": {"type": "log", "domain": [0.2, 6.28], "nice": false}, "axis": {"values": [0.2,0.5,1,2,5], "format": "~g", "title": null}}, "size": {"condition": {"test": "datum.pk == 'est'", "value": 4.5}, "value": 0}, "order": {"field": "pv", "type": "quantitative"}}},
     {"transform": [{"filter": "datum.kind == 'favours'"}], "mark": {"type": "text", "align": "right", "dx": -3, "fontSize": 5},
      "encoding": {"x": {"datum": 1, "type": "quantitative", "scale": {"type": "log", "domain": [0.2, 6.28], "nice": false}}, "y": {"datum": 7.9, "type": "quantitative", "scale": {"domain": [-3.6, 6.3], "reverse": true, "nice": false, "zero": false}, "axis": null}, "text": {"field": "left", "type": "nominal"}}},
     {"transform": [{"filter": "datum.kind == 'favours'"}], "mark": {"type": "text", "align": "left", "dx": 3, "fontSize": 5},
      "encoding": {"x": {"datum": 1, "type": "quantitative", "scale": {"type": "log", "domain": [0.2, 6.28], "nice": false}}, "y": {"datum": 7.9, "type": "quantitative", "scale": {"domain": [-3.6, 6.3], "reverse": true, "nice": false, "zero": false}, "axis": null}, "text": {"field": "right", "type": "nominal"}}}
    ]}
  ], "spacing": 0, "bounds": "flush"}
 ], "spacing": 2},
 {"vconcat": [
  {"hconcat": [
   {"width": 275.9, "height": 177.55, "data": {"name": "D"},
    "encoding": {"y": {"field": "r", "type": "quantitative", "scale": {"domain": [-4.2, 22.3], "reverse": true, "nice": false, "zero": false}, "axis": null}},
    "layer": [
     {"transform": [{"filter": "datum.kind == 'title'"}], "mark": {"type": "text", "align": "left", "font": "Liberation Serif", "fontWeight": "bold", "fontSize": 8, "color": "#111", "dy": -1},
      "encoding": {"x": {"datum": "study", "type": "nominal", "scale": {"type": "point", "domain": ["letter","g1","study","g3","g4","g5","g6","g7","m1","g9","sd1","tam","n1","g13","m2","g15","sd2","ctl","n2","g19","w","g21","g22","g23","g24","g25","g26","g27","ci","g29","g30","g31"], "padding": 0}, "axis": null}, "text": {"field": "title", "type": "nominal"}}},
     {"transform": [{"filter": "datum.kind == 'study' || datum.kind == 'events'"}], "mark": {"type": "text", "align": "left"},
      "encoding": {"x": {"datum": "study", "type": "nominal", "scale": {"type": "point", "domain": ["letter","g1","study","g3","g4","g5","g6","g7","m1","g9","sd1","tam","n1","g13","m2","g15","sd2","ctl","n2","g19","w","g21","g22","g23","g24","g25","g26","g27","ci","g29","g30","g31"], "padding": 0}, "axis": null}, "text": {"field": "study", "type": "nominal"}}},
     {"transform": [{"filter": "datum.kind == 'head2' || datum.kind == 'total'"}], "mark": {"type": "text", "align": "left", "fontWeight": "bold"},
      "encoding": {"x": {"datum": "study", "type": "nominal", "scale": {"type": "point", "domain": ["letter","g1","study","g3","g4","g5","g6","g7","m1","g9","sd1","tam","n1","g13","m2","g15","sd2","ctl","n2","g19","w","g21","g22","g23","g24","g25","g26","g27","ci","g29","g30","g31"], "padding": 0}, "axis": null}, "text": {"field": "study", "type": "nominal"}}},
     {"transform": [{"filter": "datum.kind == 'note'"}], "mark": {"type": "text", "align": "left", "fontSize": 4},
      "encoding": {"x": {"datum": "study", "type": "nominal", "scale": {"type": "point", "domain": ["letter","g1","study","g3","g4","g5","g6","g7","m1","g9","sd1","tam","n1","g13","m2","g15","sd2","ctl","n2","g19","w","g21","g22","g23","g24","g25","g26","g27","ci","g29","g30","g31"], "padding": 0}, "axis": null}, "text": {"field": "study", "type": "nominal"}}},
     {"transform": [{"filter": "isValid(datum.letter)"}], "mark": {"type": "text", "align": "left", "fontSize": 11, "color": "#222"},
      "encoding": {"x": {"datum": "letter", "type": "nominal", "scale": {"type": "point", "domain": ["letter","g1","study","g3","g4","g5","g6","g7","m1","g9","sd1","tam","n1","g13","m2","g15","sd2","ctl","n2","g19","w","g21","g22","g23","g24","g25","g26","g27","ci","g29","g30","g31"], "padding": 0}, "axis": null}, "text": {"field": "letter", "type": "nominal"}}},
     {"transform": [{"filter": "datum.kind == 'study' || datum.kind == 'events'"}, {"fold": ["m1","sd1","n1","m2","sd2","n2","w","ci"], "as": ["key","value"]}, {"filter": "isValid(datum.value)"}], "mark": {"type": "text"},
      "encoding": {"x": {"field": "key", "type": "nominal", "scale": {"type": "point", "domain": ["letter","g1","study","g3","g4","g5","g6","g7","m1","g9","sd1","tam","n1","g13","m2","g15","sd2","ctl","n2","g19","w","g21","g22","g23","g24","g25","g26","g27","ci","g29","g30","g31"], "padding": 0}, "axis": null}, "text": {"field": "value", "type": "nominal"}}},
     {"transform": [{"filter": "datum.kind == 'head1' || datum.kind == 'head2' || datum.kind == 'total'"}, {"fold": ["m1","sd1","tam","n1","m2","sd2","ctl","n2","w","ci"], "as": ["key","value"]}, {"filter": "isValid(datum.value)"}], "mark": {"type": "text", "fontWeight": "bold"},
      "encoding": {"x": {"field": "key", "type": "nominal", "scale": {"type": "point", "domain": ["letter","g1","study","g3","g4","g5","g6","g7","m1","g9","sd1","tam","n1","g13","m2","g15","sd2","ctl","n2","g19","w","g21","g22","g23","g24","g25","g26","g27","ci","g29","g30","g31"], "padding": 0}, "axis": null}, "text": {"field": "value", "type": "nominal"}}},
     {"transform": [{"filter": "datum.kind == 'favours'"}], "mark": {"type": "rule", "color": "#444", "strokeWidth": 0.8},
      "encoding": {"x": {"datum": "study", "type": "nominal", "scale": {"type": "point", "domain": ["letter","g1","study","g3","g4","g5","g6","g7","m1","g9","sd1","tam","n1","g13","m2","g15","sd2","ctl","n2","g19","w","g21","g22","g23","g24","g25","g26","g27","ci","g29","g30","g31"], "padding": 0}, "axis": null}, "x2": {"datum": "g31"}, "y": {"datum": -0.5, "type": "quantitative", "scale": {"domain": [-4.2, 22.3], "reverse": true, "nice": false, "zero": false}, "axis": null}}}
    ]},
   {"width": 135.7, "height": 177.55, "data": {"name": "D"},
    "encoding": {"y": {"field": "r", "type": "quantitative", "scale": {"domain": [-4.2, 22.3], "reverse": true, "nice": false, "zero": false}, "axis": null}},
    "layer": [
     {"transform": [{"filter": "datum.kind == 'head1' || datum.kind == 'head2'"}], "mark": {"type": "text", "fontWeight": "bold"}, "encoding": {"text": {"field": "plot", "type": "nominal"}}},
     {"transform": [{"filter": "datum.kind == 'favours'"}], "mark": {"type": "rule", "color": "#444", "strokeWidth": 0.8}, "encoding": {"y": {"datum": -0.5, "type": "quantitative", "scale": {"domain": [-4.2, 22.3], "reverse": true, "nice": false, "zero": false}, "axis": null}}},
     {"transform": [{"filter": "datum.kind == 'favours'"}], "mark": {"type": "rule", "color": "#333", "strokeWidth": 0.8},
      "encoding": {"x": {"datum": 0, "type": "quantitative", "scale": {"domain": [-23.5, 23.5], "nice": false, "zero": false}, "axis": {"values": [-20,-10,0,10,20], "format": "d", "title": null}}, "y": {"datum": -0.5, "type": "quantitative", "scale": {"domain": [-4.2, 22.3], "reverse": true, "nice": false, "zero": false}, "axis": null}, "y2": {"datum": 22.3}}},
     {"transform": [{"filter": "datum.kind == 'study'"}], "mark": {"type": "rule", "color": "#666", "strokeWidth": 0.9},
      "encoding": {"x": {"field": "lo", "type": "quantitative", "scale": {"domain": [-23.5, 23.5], "nice": false, "zero": false}, "axis": {"values": [-20,-10,0,10,20], "format": "d", "title": null}}, "x2": {"field": "hi"}}},
     {"transform": [{"filter": "datum.kind == 'study'"}], "mark": {"type": "square", "color": "#2db34a", "opacity": 1},
      "encoding": {"x": {"field": "est", "type": "quantitative", "scale": {"domain": [-23.5, 23.5], "nice": false, "zero": false}, "axis": {"values": [-20,-10,0,10,20], "format": "d", "title": null}}, "size": {"field": "weight", "type": "quantitative", "scale": {"domain": [0, 100], "range": [0, 58]}, "legend": null}}},
     {"transform": [{"filter": "datum.kind == 'total'"}, {"fold": ["lo","est","hi"], "as": ["pk","pv"]}], "mark": {"type": "trail", "color": "#111"},
      "encoding": {"x": {"field": "pv", "type": "quantitative", "scale": {"domain": [-23.5, 23.5], "nice": false, "zero": false}, "axis": {"values": [-20,-10,0,10,20], "format": "d", "title": null}}, "size": {"condition": {"test": "datum.pk == 'est'", "value": 4.5}, "value": 0}, "order": {"field": "pv", "type": "quantitative"}}},
     {"transform": [{"filter": "datum.kind == 'favours'"}], "mark": {"type": "text", "align": "right", "dx": -3, "fontSize": 5},
      "encoding": {"x": {"datum": 0, "type": "quantitative", "scale": {"domain": [-23.5, 23.5], "nice": false, "zero": false}}, "y": {"datum": 23.8, "type": "quantitative", "scale": {"domain": [-4.2, 22.3], "reverse": true, "nice": false, "zero": false}, "axis": null}, "text": {"field": "left", "type": "nominal"}}},
     {"transform": [{"filter": "datum.kind == 'favours'"}], "mark": {"type": "text", "align": "left", "dx": 3, "fontSize": 5},
      "encoding": {"x": {"datum": 0, "type": "quantitative", "scale": {"domain": [-23.5, 23.5], "nice": false, "zero": false}}, "y": {"datum": 23.8, "type": "quantitative", "scale": {"domain": [-4.2, 22.3], "reverse": true, "nice": false, "zero": false}, "axis": null}, "text": {"field": "right", "type": "nominal"}}}
    ]}
  ], "spacing": 0, "bounds": "flush"},
  {"hconcat": [
   {"width": 275.9, "height": 37.05, "data": {"name": "E"},
    "encoding": {"y": {"field": "r", "type": "quantitative", "scale": {"domain": [-2.6, 3.1], "reverse": true, "nice": false, "zero": false}, "axis": null}},
    "layer": [
     {"transform": [{"filter": "datum.kind == 'title'"}], "mark": {"type": "text", "align": "left", "font": "Liberation Serif", "fontWeight": "bold", "fontSize": 8, "color": "#111"},
      "encoding": {"x": {"datum": "study", "type": "nominal", "scale": {"type": "point", "domain": ["letter","g1","study","g3","g4","g5","g6","g7","m1","g9","sd1","tam","n1","g13","m2","g15","sd2","ctl","n2","g19","w","g21","g22","g23","g24","g25","g26","g27","ci","g29","g30","g31"], "padding": 0}, "axis": null}, "text": {"field": "title", "type": "nominal"}}},
     {"transform": [{"filter": "datum.kind == 'study' || datum.kind == 'events'"}], "mark": {"type": "text", "align": "left"},
      "encoding": {"x": {"datum": "study", "type": "nominal", "scale": {"type": "point", "domain": ["letter","g1","study","g3","g4","g5","g6","g7","m1","g9","sd1","tam","n1","g13","m2","g15","sd2","ctl","n2","g19","w","g21","g22","g23","g24","g25","g26","g27","ci","g29","g30","g31"], "padding": 0}, "axis": null}, "text": {"field": "study", "type": "nominal"}}},
     {"transform": [{"filter": "datum.kind == 'head2' || datum.kind == 'total'"}], "mark": {"type": "text", "align": "left", "fontWeight": "bold"},
      "encoding": {"x": {"datum": "study", "type": "nominal", "scale": {"type": "point", "domain": ["letter","g1","study","g3","g4","g5","g6","g7","m1","g9","sd1","tam","n1","g13","m2","g15","sd2","ctl","n2","g19","w","g21","g22","g23","g24","g25","g26","g27","ci","g29","g30","g31"], "padding": 0}, "axis": null}, "text": {"field": "study", "type": "nominal"}}},
     {"transform": [{"filter": "datum.kind == 'note'"}], "mark": {"type": "text", "align": "left", "fontSize": 4},
      "encoding": {"x": {"datum": "study", "type": "nominal", "scale": {"type": "point", "domain": ["letter","g1","study","g3","g4","g5","g6","g7","m1","g9","sd1","tam","n1","g13","m2","g15","sd2","ctl","n2","g19","w","g21","g22","g23","g24","g25","g26","g27","ci","g29","g30","g31"], "padding": 0}, "axis": null}, "text": {"field": "study", "type": "nominal"}}},
     {"transform": [{"filter": "isValid(datum.letter)"}], "mark": {"type": "text", "align": "left", "fontSize": 11, "color": "#222"},
      "encoding": {"x": {"datum": "letter", "type": "nominal", "scale": {"type": "point", "domain": ["letter","g1","study","g3","g4","g5","g6","g7","m1","g9","sd1","tam","n1","g13","m2","g15","sd2","ctl","n2","g19","w","g21","g22","g23","g24","g25","g26","g27","ci","g29","g30","g31"], "padding": 0}, "axis": null}, "text": {"field": "letter", "type": "nominal"}}},
     {"transform": [{"filter": "datum.kind == 'study' || datum.kind == 'events'"}, {"fold": ["m1","sd1","n1","m2","sd2","n2","w","ci"], "as": ["key","value"]}, {"filter": "isValid(datum.value)"}], "mark": {"type": "text"},
      "encoding": {"x": {"field": "key", "type": "nominal", "scale": {"type": "point", "domain": ["letter","g1","study","g3","g4","g5","g6","g7","m1","g9","sd1","tam","n1","g13","m2","g15","sd2","ctl","n2","g19","w","g21","g22","g23","g24","g25","g26","g27","ci","g29","g30","g31"], "padding": 0}, "axis": null}, "text": {"field": "value", "type": "nominal"}}},
     {"transform": [{"filter": "datum.kind == 'head1' || datum.kind == 'head2' || datum.kind == 'total'"}, {"fold": ["m1","sd1","tam","n1","m2","sd2","ctl","n2","w","ci"], "as": ["key","value"]}, {"filter": "isValid(datum.value)"}], "mark": {"type": "text", "fontWeight": "bold"},
      "encoding": {"x": {"field": "key", "type": "nominal", "scale": {"type": "point", "domain": ["letter","g1","study","g3","g4","g5","g6","g7","m1","g9","sd1","tam","n1","g13","m2","g15","sd2","ctl","n2","g19","w","g21","g22","g23","g24","g25","g26","g27","ci","g29","g30","g31"], "padding": 0}, "axis": null}, "text": {"field": "value", "type": "nominal"}}},
     {"transform": [{"filter": "datum.kind == 'favours'"}], "mark": {"type": "rule", "color": "#444", "strokeWidth": 0.8},
      "encoding": {"x": {"datum": "study", "type": "nominal", "scale": {"type": "point", "domain": ["letter","g1","study","g3","g4","g5","g6","g7","m1","g9","sd1","tam","n1","g13","m2","g15","sd2","ctl","n2","g19","w","g21","g22","g23","g24","g25","g26","g27","ci","g29","g30","g31"], "padding": 0}, "axis": null}, "x2": {"datum": "g31"}, "y": {"datum": -0.5, "type": "quantitative", "scale": {"domain": [-2.6, 3.1], "reverse": true, "nice": false, "zero": false}, "axis": null}}}
    ]},
   {"width": 135.7, "height": 37.05, "data": {"name": "E"},
    "encoding": {"y": {"field": "r", "type": "quantitative", "scale": {"domain": [-2.6, 3.1], "reverse": true, "nice": false, "zero": false}, "axis": null}},
    "layer": [
     {"transform": [{"filter": "datum.kind == 'favours'"}], "mark": {"type": "rule", "color": "#444", "strokeWidth": 0.8}, "encoding": {"y": {"datum": -0.5, "type": "quantitative", "scale": {"domain": [-2.6, 3.1], "reverse": true, "nice": false, "zero": false}, "axis": null}}},
     {"transform": [{"filter": "datum.kind == 'favours'"}], "mark": {"type": "rule", "color": "#333", "strokeWidth": 0.8},
      "encoding": {"x": {"datum": 0, "type": "quantitative", "scale": {"domain": [-22.5, 21.5], "nice": false, "zero": false}, "axis": {"values": [-20,-10,0,10,20], "format": "d", "title": null}}, "y": {"datum": -0.5, "type": "quantitative", "scale": {"domain": [-2.6, 3.1], "reverse": true, "nice": false, "zero": false}, "axis": null}, "y2": {"datum": 3.1}}},
     {"transform": [{"filter": "datum.kind == 'study'"}], "mark": {"type": "rule", "color": "#555", "strokeWidth": 0.9},
      "encoding": {"x": {"field": "lo", "type": "quantitative", "scale": {"domain": [-22.5, 21.5], "nice": false, "zero": false}, "axis": {"values": [-20,-10,0,10,20], "format": "d", "title": null}}, "x2": {"field": "hi"}}},
     {"transform": [{"filter": "datum.kind == 'study'"}], "mark": {"type": "square", "color": "#2db34a", "opacity": 1},
      "encoding": {"x": {"field": "est", "type": "quantitative", "scale": {"domain": [-22.5, 21.5], "nice": false, "zero": false}, "axis": {"values": [-20,-10,0,10,20], "format": "d", "title": null}}, "size": {"field": "weight", "type": "quantitative", "scale": {"domain": [0, 100], "range": [0, 49]}, "legend": null}}},
     {"transform": [{"filter": "datum.kind == 'total'"}, {"fold": ["lo","est","hi"], "as": ["pk","pv"]}], "mark": {"type": "trail", "color": "#111"},
      "encoding": {"x": {"field": "pv", "type": "quantitative", "scale": {"domain": [-22.5, 21.5], "nice": false, "zero": false}, "axis": {"values": [-20,-10,0,10,20], "format": "d", "title": null}}, "size": {"condition": {"test": "datum.pk == 'est'", "value": 4.5}, "value": 0}, "order": {"field": "pv", "type": "quantitative"}}},
     {"transform": [{"filter": "datum.kind == 'favours'"}], "mark": {"type": "text", "align": "right", "dx": -3, "fontSize": 5},
      "encoding": {"x": {"datum": 0, "type": "quantitative", "scale": {"domain": [-22.5, 21.5], "nice": false, "zero": false}}, "y": {"datum": 4.7, "type": "quantitative", "scale": {"domain": [-2.6, 3.1], "reverse": true, "nice": false, "zero": false}, "axis": null}, "text": {"field": "left", "type": "nominal"}}},
     {"transform": [{"filter": "datum.kind == 'favours'"}], "mark": {"type": "text", "align": "left", "dx": 3, "fontSize": 5},
      "encoding": {"x": {"datum": 0, "type": "quantitative", "scale": {"domain": [-22.5, 21.5], "nice": false, "zero": false}}, "y": {"datum": 4.7, "type": "quantitative", "scale": {"domain": [-2.6, 3.1], "reverse": true, "nice": false, "zero": false}, "axis": null}, "text": {"field": "right", "type": "nominal"}}}
    ]}
  ], "spacing": 0, "bounds": "flush"},
  {"hconcat": [
   {"width": 275.9, "height": 37.05, "data": {"name": "F"},
    "encoding": {"y": {"field": "r", "type": "quantitative", "scale": {"domain": [-2.6, 3.1], "reverse": true, "nice": false, "zero": false}, "axis": null}},
    "layer": [
     {"transform": [{"filter": "datum.kind == 'title'"}], "mark": {"type": "text", "align": "left", "font": "Liberation Serif", "fontWeight": "bold", "fontSize": 8, "color": "#111"},
      "encoding": {"x": {"datum": "study", "type": "nominal", "scale": {"type": "point", "domain": ["letter","g1","study","g3","g4","g5","g6","g7","m1","g9","sd1","tam","n1","g13","m2","g15","sd2","ctl","n2","g19","w","g21","g22","g23","g24","g25","g26","g27","ci","g29","g30","g31"], "padding": 0}, "axis": null}, "text": {"field": "title", "type": "nominal"}}},
     {"transform": [{"filter": "datum.kind == 'study' || datum.kind == 'events'"}], "mark": {"type": "text", "align": "left"},
      "encoding": {"x": {"datum": "study", "type": "nominal", "scale": {"type": "point", "domain": ["letter","g1","study","g3","g4","g5","g6","g7","m1","g9","sd1","tam","n1","g13","m2","g15","sd2","ctl","n2","g19","w","g21","g22","g23","g24","g25","g26","g27","ci","g29","g30","g31"], "padding": 0}, "axis": null}, "text": {"field": "study", "type": "nominal"}}},
     {"transform": [{"filter": "datum.kind == 'head2' || datum.kind == 'total'"}], "mark": {"type": "text", "align": "left", "fontWeight": "bold"},
      "encoding": {"x": {"datum": "study", "type": "nominal", "scale": {"type": "point", "domain": ["letter","g1","study","g3","g4","g5","g6","g7","m1","g9","sd1","tam","n1","g13","m2","g15","sd2","ctl","n2","g19","w","g21","g22","g23","g24","g25","g26","g27","ci","g29","g30","g31"], "padding": 0}, "axis": null}, "text": {"field": "study", "type": "nominal"}}},
     {"transform": [{"filter": "datum.kind == 'note'"}], "mark": {"type": "text", "align": "left", "fontSize": 4},
      "encoding": {"x": {"datum": "study", "type": "nominal", "scale": {"type": "point", "domain": ["letter","g1","study","g3","g4","g5","g6","g7","m1","g9","sd1","tam","n1","g13","m2","g15","sd2","ctl","n2","g19","w","g21","g22","g23","g24","g25","g26","g27","ci","g29","g30","g31"], "padding": 0}, "axis": null}, "text": {"field": "study", "type": "nominal"}}},
     {"transform": [{"filter": "isValid(datum.letter)"}], "mark": {"type": "text", "align": "left", "fontSize": 11, "color": "#222"},
      "encoding": {"x": {"datum": "letter", "type": "nominal", "scale": {"type": "point", "domain": ["letter","g1","study","g3","g4","g5","g6","g7","m1","g9","sd1","tam","n1","g13","m2","g15","sd2","ctl","n2","g19","w","g21","g22","g23","g24","g25","g26","g27","ci","g29","g30","g31"], "padding": 0}, "axis": null}, "text": {"field": "letter", "type": "nominal"}}},
     {"transform": [{"filter": "datum.kind == 'study' || datum.kind == 'events'"}, {"fold": ["m1","sd1","n1","m2","sd2","n2","w","ci"], "as": ["key","value"]}, {"filter": "isValid(datum.value)"}], "mark": {"type": "text"},
      "encoding": {"x": {"field": "key", "type": "nominal", "scale": {"type": "point", "domain": ["letter","g1","study","g3","g4","g5","g6","g7","m1","g9","sd1","tam","n1","g13","m2","g15","sd2","ctl","n2","g19","w","g21","g22","g23","g24","g25","g26","g27","ci","g29","g30","g31"], "padding": 0}, "axis": null}, "text": {"field": "value", "type": "nominal"}}},
     {"transform": [{"filter": "datum.kind == 'head1' || datum.kind == 'head2' || datum.kind == 'total'"}, {"fold": ["m1","sd1","tam","n1","m2","sd2","ctl","n2","w","ci"], "as": ["key","value"]}, {"filter": "isValid(datum.value)"}], "mark": {"type": "text", "fontWeight": "bold"},
      "encoding": {"x": {"field": "key", "type": "nominal", "scale": {"type": "point", "domain": ["letter","g1","study","g3","g4","g5","g6","g7","m1","g9","sd1","tam","n1","g13","m2","g15","sd2","ctl","n2","g19","w","g21","g22","g23","g24","g25","g26","g27","ci","g29","g30","g31"], "padding": 0}, "axis": null}, "text": {"field": "value", "type": "nominal"}}},
     {"transform": [{"filter": "datum.kind == 'favours'"}], "mark": {"type": "rule", "color": "#444", "strokeWidth": 0.8},
      "encoding": {"x": {"datum": "study", "type": "nominal", "scale": {"type": "point", "domain": ["letter","g1","study","g3","g4","g5","g6","g7","m1","g9","sd1","tam","n1","g13","m2","g15","sd2","ctl","n2","g19","w","g21","g22","g23","g24","g25","g26","g27","ci","g29","g30","g31"], "padding": 0}, "axis": null}, "x2": {"datum": "g31"}, "y": {"datum": -0.5, "type": "quantitative", "scale": {"domain": [-2.6, 3.1], "reverse": true, "nice": false, "zero": false}, "axis": null}}}
    ]},
   {"width": 135.7, "height": 37.05, "data": {"name": "F"},
    "encoding": {"y": {"field": "r", "type": "quantitative", "scale": {"domain": [-2.6, 3.1], "reverse": true, "nice": false, "zero": false}, "axis": null}},
    "layer": [
     {"transform": [{"filter": "datum.kind == 'favours'"}], "mark": {"type": "rule", "color": "#444", "strokeWidth": 0.8}, "encoding": {"y": {"datum": -0.5, "type": "quantitative", "scale": {"domain": [-2.6, 3.1], "reverse": true, "nice": false, "zero": false}, "axis": null}}},
     {"transform": [{"filter": "datum.kind == 'favours'"}], "mark": {"type": "rule", "color": "#333", "strokeWidth": 0.8},
      "encoding": {"x": {"datum": 0, "type": "quantitative", "scale": {"domain": [-242, 210], "nice": false, "zero": false}, "axis": {"values": [-200,-100,0,100,200], "format": "d", "title": null}}, "y": {"datum": -0.5, "type": "quantitative", "scale": {"domain": [-2.6, 3.1], "reverse": true, "nice": false, "zero": false}, "axis": null}, "y2": {"datum": 3.1}}},
     {"transform": [{"filter": "datum.kind == 'study'"}], "mark": {"type": "rule", "color": "#555", "strokeWidth": 0.9},
      "encoding": {"x": {"field": "lo", "type": "quantitative", "scale": {"domain": [-242, 210], "nice": false, "zero": false}, "axis": {"values": [-200,-100,0,100,200], "format": "d", "title": null}}, "x2": {"field": "hi"}}},
     {"transform": [{"filter": "datum.kind == 'study'"}], "mark": {"type": "square", "color": "#2db34a", "opacity": 1},
      "encoding": {"x": {"field": "est", "type": "quantitative", "scale": {"domain": [-242, 210], "nice": false, "zero": false}, "axis": {"values": [-200,-100,0,100,200], "format": "d", "title": null}}, "size": {"field": "weight", "type": "quantitative", "scale": {"domain": [0, 100], "range": [0, 49]}, "legend": null}}},
     {"transform": [{"filter": "datum.kind == 'total'"}, {"fold": ["lo","est","hi"], "as": ["pk","pv"]}], "mark": {"type": "trail", "color": "#111"},
      "encoding": {"x": {"field": "pv", "type": "quantitative", "scale": {"domain": [-242, 210], "nice": false, "zero": false}, "axis": {"values": [-200,-100,0,100,200], "format": "d", "title": null}}, "size": {"condition": {"test": "datum.pk == 'est'", "value": 4.5}, "value": 0}, "order": {"field": "pv", "type": "quantitative"}}},
     {"transform": [{"filter": "datum.kind == 'favours'"}], "mark": {"type": "text", "align": "right", "dx": -3, "fontSize": 5},
      "encoding": {"x": {"datum": 0, "type": "quantitative", "scale": {"domain": [-242, 210], "nice": false, "zero": false}}, "y": {"datum": 4.7, "type": "quantitative", "scale": {"domain": [-2.6, 3.1], "reverse": true, "nice": false, "zero": false}, "axis": null}, "text": {"field": "left", "type": "nominal"}}},
     {"transform": [{"filter": "datum.kind == 'favours'"}], "mark": {"type": "text", "align": "left", "dx": 3, "fontSize": 5},
      "encoding": {"x": {"datum": 0, "type": "quantitative", "scale": {"domain": [-242, 210], "nice": false, "zero": false}}, "y": {"datum": 4.7, "type": "quantitative", "scale": {"domain": [-2.6, 3.1], "reverse": true, "nice": false, "zero": false}, "axis": null}, "text": {"field": "right", "type": "nominal"}}}
    ]}
  ], "spacing": 0, "bounds": "flush"}
 ], "spacing": 45.6}
],
"spacing": 8.4
}
